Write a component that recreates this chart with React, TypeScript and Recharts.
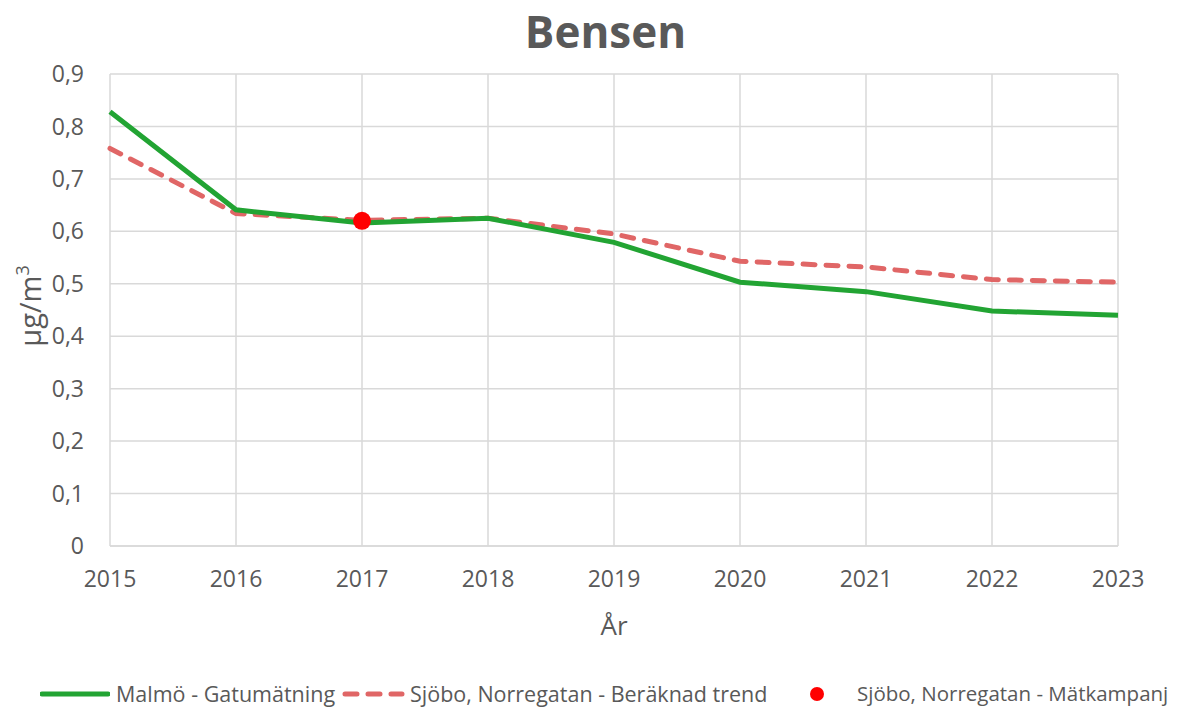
import { LineChart, Line, XAxis, YAxis, CartesianGrid } from "recharts";

const YEARS = ["2015", "2016", "2017", "2018", "2019", "2020", "2021", "2022", "2023"];
const MALMO = [0.828, 0.641, 0.616, 0.625, 0.579, 0.503, 0.485, 0.448, 0.44];
const SJOBO_TREND = [0.758, 0.634, 0.621, 0.625, 0.595, 0.543, 0.532, 0.508, 0.503];
const SJOBO_KAMPANJ: (number | null)[] = [null, null, 0.62, null, null, null, null, null, null];
const Y_TICKS = [0, 0.1, 0.2, 0.3, 0.4, 0.5, 0.6, 0.7, 0.8, 0.9];

const GREEN = "#22A433";
const RED_DASH = "#E06666";
const TEXT = "#595959";
const FONT = "'Open Sans', sans-serif";

const data = YEARS.map((year, i) => ({
  year,
  malmo: MALMO[i],
  trend: SJOBO_TREND[i],
  kampanj: SJOBO_KAMPANJ[i],
}));

const fmt = (v: number) => (v === 0 ? "0" : v.toFixed(1).replace(".", ","));

const YLabel = () => (
  <text x={0} y={0} transform="translate(41, 306) rotate(-90)" textAnchor="middle"
    style={{ fontFamily: FONT, fontSize: 29, fill: TEXT }}>
    µg/m<tspan dy={-12} fontSize={18}>3</tspan>
  </text>
);

const LegendRow = () => (
  <div style={{ position: "absolute", left: 0, top: 679, width: 1181, height: 28, fontFamily: FONT, fontSize: 21.5, color: TEXT }}>
    <svg width={70} height={10} style={{ position: "absolute", left: 40, top: 10 }}>
      <line x1={2} y1={5} x2={68} y2={5} stroke={GREEN} strokeWidth={5} strokeLinecap="round" />
    </svg>
    <span style={{ position: "absolute", left: 116, top: 0, whiteSpace: "nowrap" }}>Malmö - Gatumätning</span>
    <svg width={64} height={10} style={{ position: "absolute", left: 342, top: 10 }}>
      <line x1={3} y1={5} x2={60} y2={5} stroke={RED_DASH} strokeWidth={5} strokeLinecap="round" strokeDasharray="12 11" />
    </svg>
    <span style={{ position: "absolute", left: 410, top: 0, whiteSpace: "nowrap" }}>Sjöbo, Norregatan - Beräknad trend</span>
    <svg width={16} height={16} style={{ position: "absolute", left: 809, top: 7 }}>
      <circle cx={8} cy={8} r={7} fill="#FF0000" />
    </svg>
    <span style={{ position: "absolute", left: 857, top: 0, whiteSpace: "nowrap", fontSize: 20.5 }}>Sjöbo, Norregatan - Mätkampanj</span>
  </div>
);

export default function App() {
  return (
    <div style={{ position: "absolute", left: 0, top: 0, width: 1181, height: 707, background: "#fff" }}>
      <div style={{ position: "absolute", left: 0, top: 1, width: 1211, textAlign: "center", fontFamily: FONT, fontWeight: 700, fontSize: 44, color: TEXT }}>
        Bensen
      </div>
      <LineChart width={1181} height={707} data={data} margin={{ top: 74, right: 63, bottom: 101, left: 0 }}>
        <CartesianGrid stroke="#D9D9D9" strokeWidth={1.5} />
        <XAxis dataKey="year" height={60} tickLine={false} axisLine={{ stroke: "#D9D9D9", strokeWidth: 1.5 }}
          tickMargin={19} tick={{ fontFamily: FONT, fontSize: 23, fill: TEXT }}
          label={{ value: "År", position: "insideBottom", offset: -29, style: { fontFamily: FONT, fontSize: 26, fill: TEXT } }} />
        <YAxis width={110} domain={[0, 0.9]} ticks={Y_TICKS} tickFormatter={fmt} tickLine={false} axisLine={false}
          tickMargin={20} tick={{ fontFamily: FONT, fontSize: 23, fill: TEXT }} label={<YLabel />} />
        <Line dataKey="trend" stroke={RED_DASH} strokeWidth={5} strokeDasharray="12 11" strokeLinecap="round"
          dot={false} isAnimationActive={false} />
        <Line dataKey="malmo" stroke={GREEN} strokeWidth={5} dot={false} isAnimationActive={false} />
        <Line dataKey="kampanj" stroke="none" dot={{ r: 9, fill: "#FF0000", stroke: "none" }} connectNulls={false}
          isAnimationActive={false} />
      </LineChart>
      <LegendRow />
    </div>
  );
}
